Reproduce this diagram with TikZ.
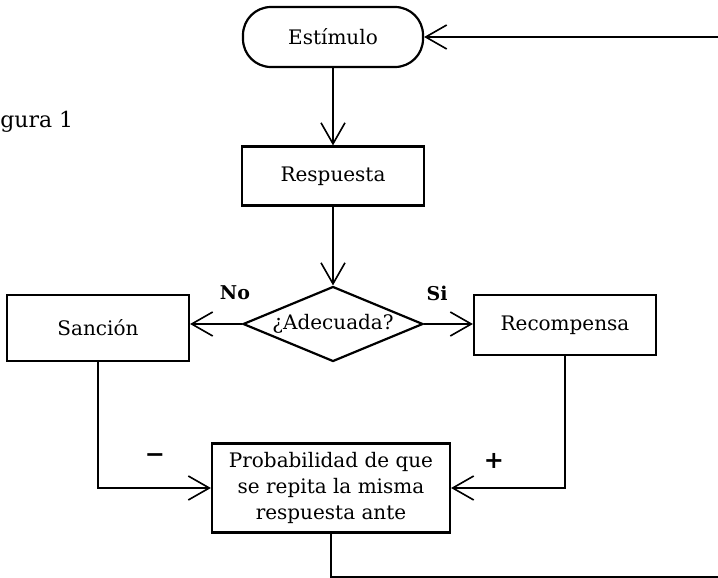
\documentclass[tikz,border=0pt]{standalone}
\usepackage{fontspec}
\setmainfont{DejaVu Serif}
\usepackage{tikz}
\usetikzlibrary{arrows.meta, shapes.geometric}

\tikzset{
  caja/.style={draw, line width=1.1pt, minimum width=91pt, minimum height=31pt, inner sep=2pt},
  enlace/.style={draw, line width=0.8pt, ->},
}

\begin{document}
\begin{tikzpicture}[x=0.5pt, y=-0.5pt, every node/.style={font=\fontsize{10}{13}\selectfont},
    >={Straight Barb[length=10.5pt, width=12pt]}]
  \useasboundingbox (0,0) rectangle (718,578);
  % nodos
  \node[caja, rounded corners=14pt, minimum height=30pt, minimum width=90pt] (est) at (333,37) {Estímulo};
  \node[caja, minimum height=29.5pt] (resp) at (333,176) {Respuesta};
  \node[draw, line width=1.1pt, diamond, aspect=2.4, inner sep=0pt,
        minimum width=90pt, minimum height=37.5pt] (adec) at (333,324) {¿Adecuada?};
  \node[caja, minimum height=33pt] (san) at (98,328) {Sanción};
  \node[caja, minimum height=30pt] (rec) at (565,325) {Recompensa};
  \node[caja, minimum width=119pt, minimum height=44.5pt, align=center] (prob) at (331,488)
    {Probabilidad de que\\se repita la misma\\respuesta ante};
  \node[anchor=west, inner sep=0pt, font=\fontsize{11}{13}\selectfont] (fig) at (0,122) {gura 1};
  % conectores
  \coordinate (retA) at (718,577);
  \coordinate (retB) at (718,37);
  \draw[enlace] (est) -- (resp);
  \draw[enlace] (resp) -- (adec);
  \draw[enlace] (adec.west) -- (adec.west -| san.east);
  \draw[enlace] (adec.east) -- (adec.east -| rec.west);
  \draw[enlace] (san.south) |- (prob.west);
  \draw[enlace] (rec.south) |- (prob.east);
  \draw[line width=0.8pt] (prob.south) |- (retA);
  \draw[enlace] (retB) -- (est.east);
  % etiquetas
  \node[font=\fontsize{9.5}{11}\selectfont\bfseries] (no) at (235,293) {No};
  \node[font=\fontsize{9.5}{11}\selectfont\bfseries] (si) at (437,293) {Si};
  \node[font=\fontsize{12}{14}\selectfont\bfseries] (menos) at (155,458) {−};
  \node[font=\fontsize{12}{14}\selectfont\bfseries] (mas) at (494,461) {+};
\end{tikzpicture}
\end{document}
